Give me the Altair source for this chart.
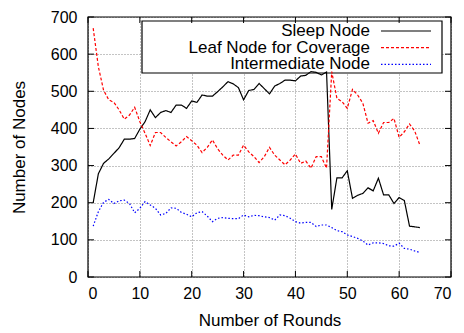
import altair as alt
import pandas as pd

ROUNDS = list(range(1, 65))
SLEEP = [200, 278, 306, 318, 333, 348, 371, 371, 373, 398,
         418, 450, 429, 443, 448, 443, 463, 463, 454, 474,
         470, 490, 487, 487, 499, 512, 526, 520, 510, 477,
         502, 505, 521, 507, 493, 514, 521, 530, 530, 528,
         541, 543, 553, 551, 544, 552, 182, 267, 267, 286,
         212, 220, 225, 240, 232, 266, 221, 221, 198, 214,
         206, 137, 135, 133]
LEAF = [670, 566, 503, 477, 470, 450, 425, 436, 457, 418,
        387, 354, 389, 389, 376, 364, 353, 364, 378, 367,
        355, 335, 349, 369, 345, 328, 315, 328, 328, 355,
        337, 324, 308, 324, 349, 328, 315, 302, 315, 331,
        306, 312, 293, 324, 324, 293, 553, 481, 472, 454,
        505, 490, 468, 414, 421, 387, 416, 416, 427, 376,
        391, 412, 393, 355]
INTER = [137, 176, 201, 209, 198, 205, 207, 198, 173, 185,
         203, 194, 185, 167, 171, 186, 185, 174, 169, 162,
         173, 176, 164, 149, 158, 160, 158, 157, 157, 167,
         162, 166, 165, 162, 160, 153, 167, 165, 158, 149,
         145, 147, 147, 136, 140, 140, 133, 125, 122, 113,
         109, 104, 97, 86, 92, 92, 90, 84, 83, 91,
         77, 75, 70, 66]

SERIES = ["Sleep Node", "Leaf Node for Coverage", "Intermediate Node"]
COLORS = ["#000000", "#ff0000", "#0000ff"]
DASHES = [[1, 0], [3, 2], [1.5, 2]]
X_TICKS = [0, 10, 20, 30, 40, 50, 60, 70]
Y_TICKS = [0, 100, 200, 300, 400, 500, 600, 700]

rows = []
for name, vals in zip(SERIES, [SLEEP, LEAF, INTER]):
    for r, v in zip(ROUNDS, vals):
        rows.append({"round": r, "nodes": v, "series": name})
df = pd.DataFrame(rows)

W, H = 363, 260
FONT = "Liberation Sans"

xs = alt.Scale(domain=[0, 70], nice=False, zero=False)
ys = alt.Scale(domain=[0, 700], nice=False)

x_axis = alt.Axis(values=X_TICKS, title="Number of Rounds", labelFontSize=16,
                  labelFont=FONT, labelColor="black", tickSize=0, domain=False,
                  grid=True, gridColor="#888888", gridDash=[1, 2], gridWidth=1,
                  labelPadding=8, titleFont=FONT, titleFontSize=17,
                  titleFontWeight="normal", titleColor="black",
                  titleX=W / 2, titleY=43, titleBaseline="middle", titleAlign="center")
y_axis = alt.Axis(values=Y_TICKS, title="Number of Nodes", labelFontSize=16,
                  labelFont=FONT, labelColor="black", tickSize=0, domain=False,
                  grid=True, gridColor="#888888", gridDash=[1, 2], gridWidth=1,
                  labelPadding=11, titleFont=FONT, titleFontSize=17,
                  titleFontWeight="normal", titleColor="black",
                  titleX=-69, titleY=H / 2, titleAngle=-90,
                  titleBaseline="middle", titleAlign="center")

one = pd.DataFrame({"a": [0]})
xt = pd.DataFrame({"t": X_TICKS})
yt = pd.DataFrame({"t": Y_TICKS})

box = alt.Chart(one).mark_rect(fill="white", stroke="black", strokeWidth=1.2).encode(
    x=alt.value(54), x2=alt.value(354), y=alt.value(4), y2=alt.value(56))

lines = alt.Chart(df).mark_line(strokeWidth=1.2).encode(
    x=alt.X("round:Q", scale=xs, axis=x_axis),
    y=alt.Y("nodes:Q", scale=ys, axis=y_axis),
    color=alt.Color("series:N", scale=alt.Scale(domain=SERIES, range=COLORS), legend=None),
    strokeDash=alt.StrokeDash("series:N", scale=alt.Scale(domain=SERIES, range=DASHES), legend=None),
)

layers = [box, lines]

for i, (name, col, dash) in enumerate(zip(SERIES, COLORS, DASHES)):
    yy = 14 + i * 16.7
    layers.append(alt.Chart(one).mark_text(align="right", baseline="middle", fontSize=17,
                                           font=FONT, color="black").encode(
        x=alt.value(282), y=alt.value(yy), text=alt.value(name)))
    layers.append(alt.Chart(one).mark_rule(color=col, strokeDash=dash, strokeWidth=1.2).encode(
        x=alt.value(293), x2=alt.value(343), y=alt.value(yy)))

tick_b = alt.Chart(xt).mark_rule(color="black", strokeWidth=1).encode(
    x=alt.X("t:Q", scale=xs, axis=x_axis), y=alt.value(H), y2=alt.value(H - 6))
tick_t = alt.Chart(xt).mark_rule(color="black", strokeWidth=1).encode(
    x=alt.X("t:Q", scale=xs, axis=x_axis), y=alt.value(0), y2=alt.value(6))
tick_l = alt.Chart(yt).mark_rule(color="black", strokeWidth=1).encode(
    y=alt.Y("t:Q", scale=ys, axis=y_axis), x=alt.value(0), x2=alt.value(6))
tick_r = alt.Chart(yt).mark_rule(color="black", strokeWidth=1).encode(
    y=alt.Y("t:Q", scale=ys, axis=y_axis), x=alt.value(W), x2=alt.value(W - 6))

frame = alt.Chart(one).mark_rect(fill=None, stroke="black", strokeWidth=1.2).encode(
    x=alt.value(0), x2=alt.value(W), y=alt.value(0), y2=alt.value(H))

layers += [tick_b, tick_t, tick_l, tick_r, frame]

chart = alt.layer(*layers).properties(
    width=W, height=H,
    autosize=alt.AutoSizeParams(type="none"),
    padding={"left": 88, "top": 17, "right": 13, "bottom": 56},
    background="white",
).configure_view(stroke=None)

chart.save("out.html", embed_options={"renderer": "svg", "actions": False})
